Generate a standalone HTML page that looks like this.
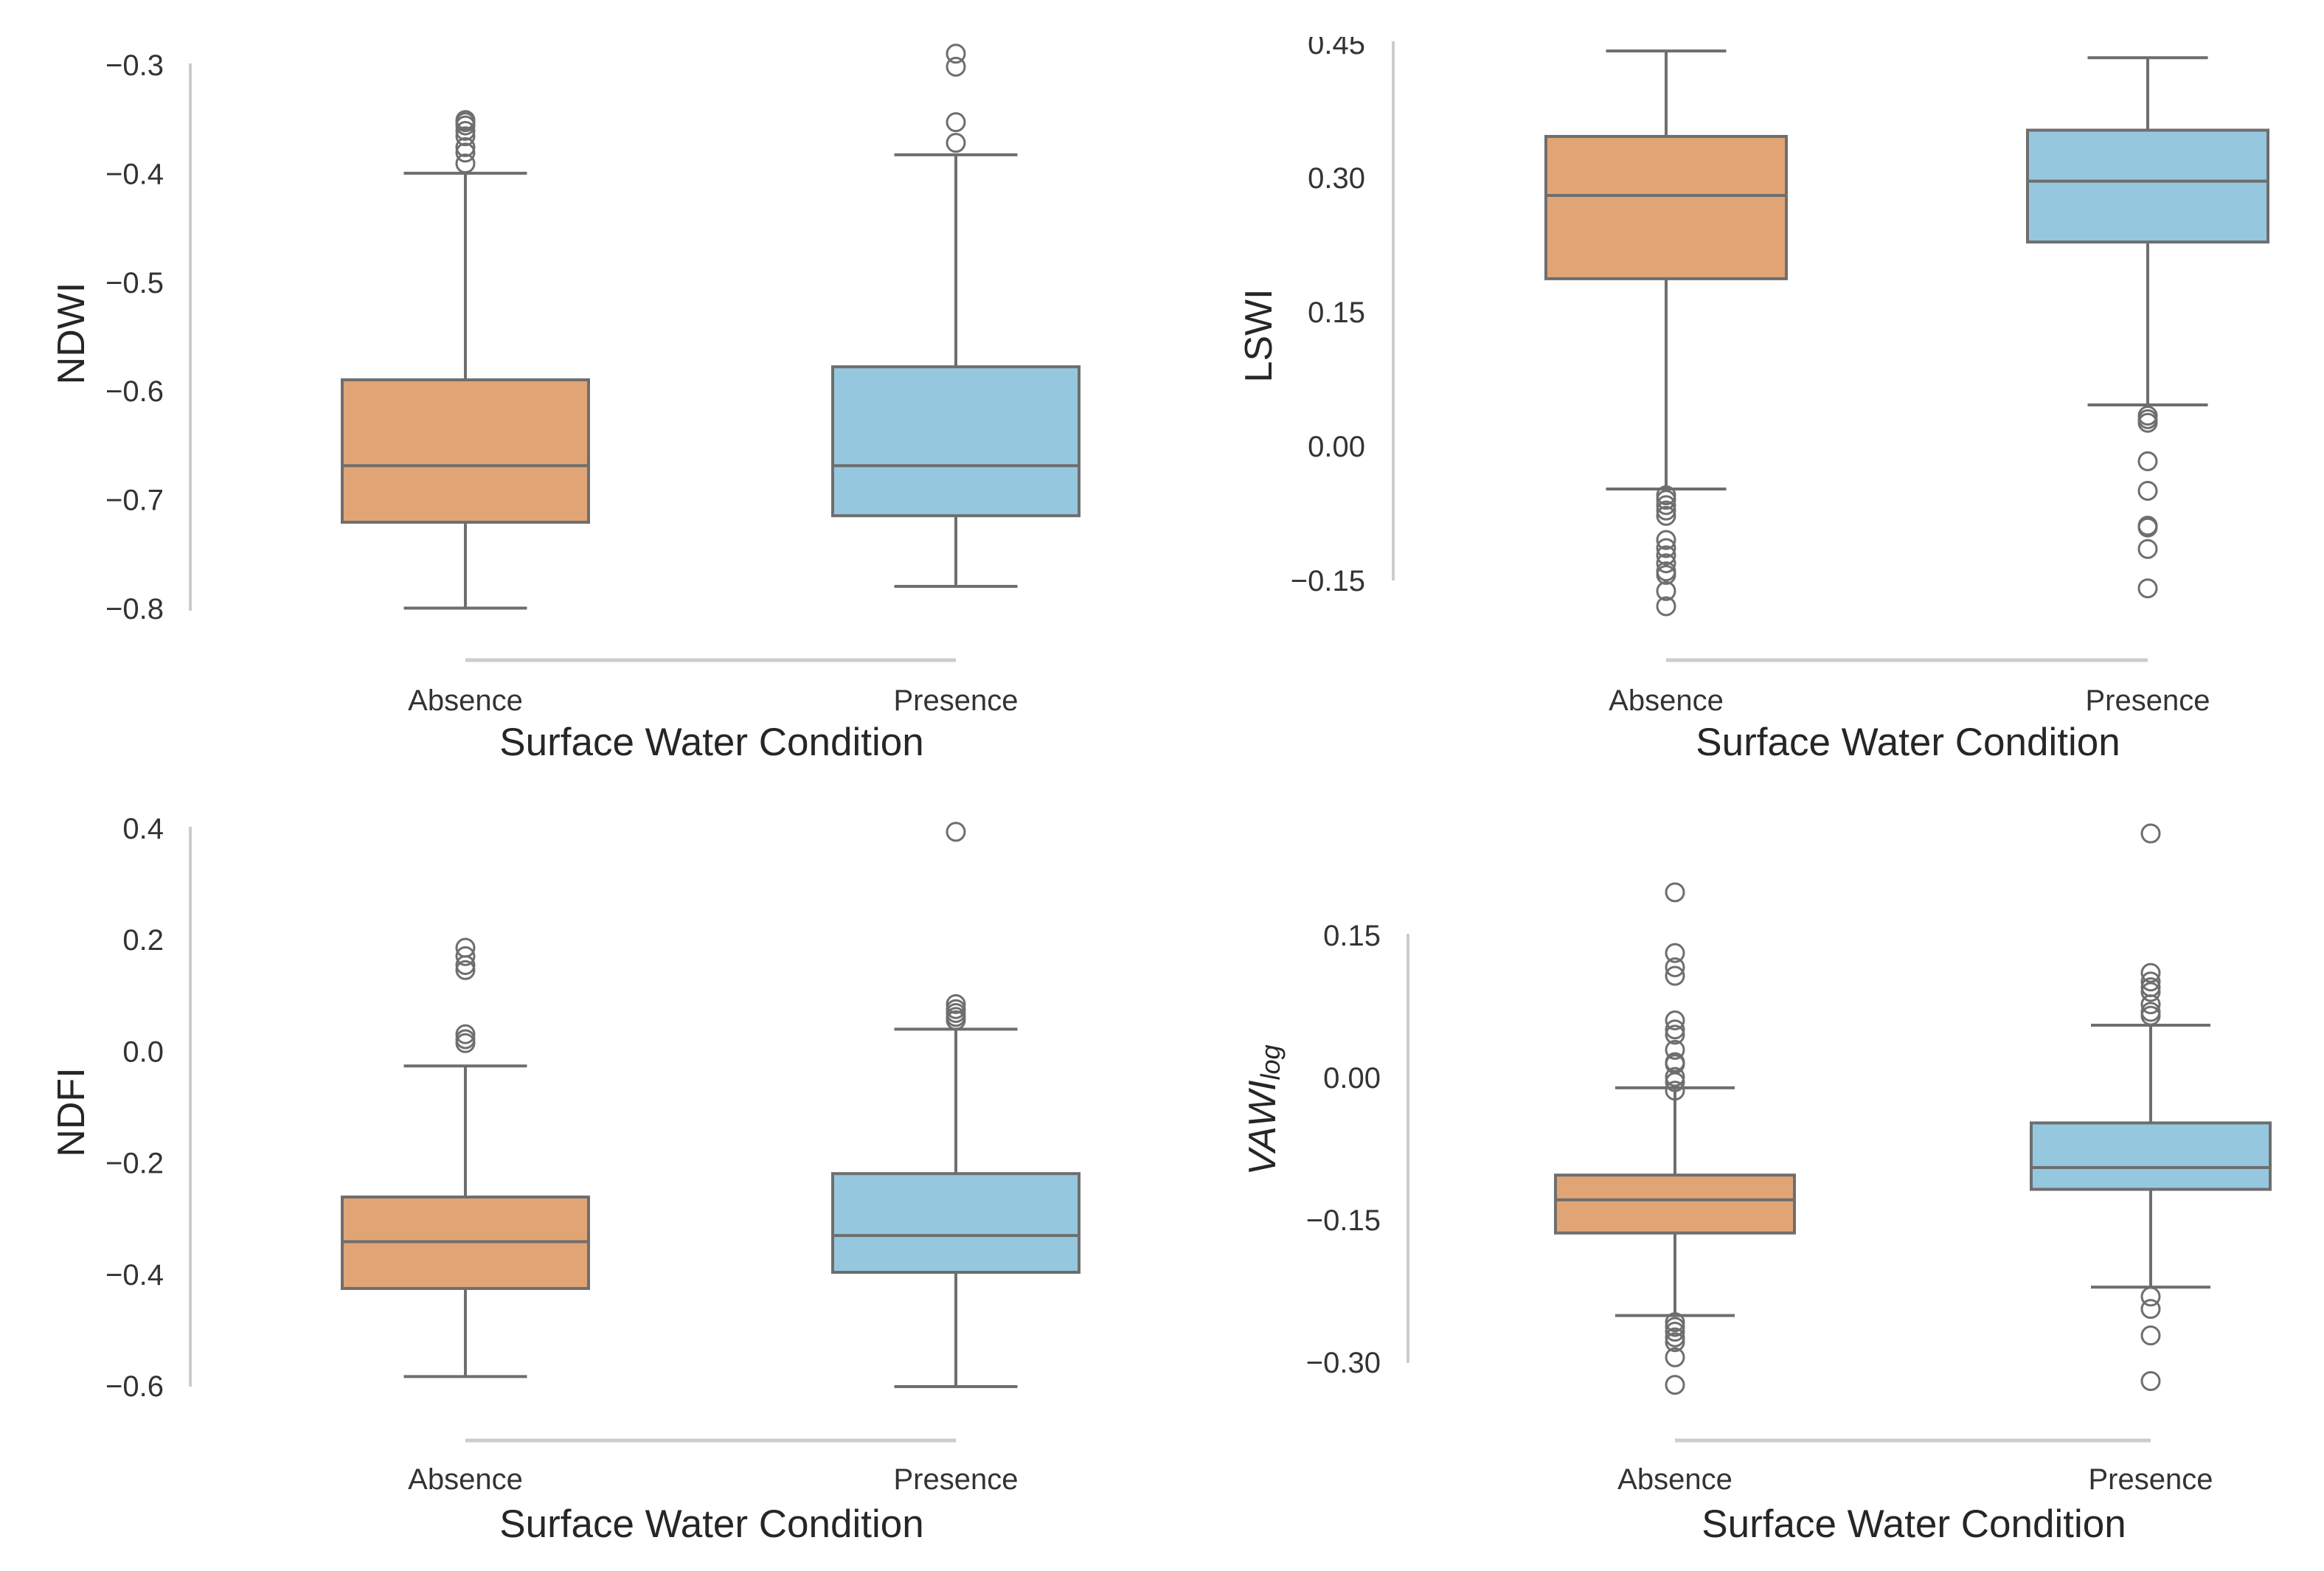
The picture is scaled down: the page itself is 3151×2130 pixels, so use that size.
<!DOCTYPE html>
<html><head><meta charset="utf-8"><style>
html,body{margin:0;padding:0;background:#fff;}
svg{display:block;font-family:"Liberation Sans",Arial,sans-serif;}
</style></head><body>
<svg id="chart" width="3151" height="2130" viewBox="0 0 3151 2130" xmlns="http://www.w3.org/2000/svg"></svg>
<script>
const categories = ["Absence", "Presence"];
// per panel: [whiskerLow, Q1, median, Q3, whiskerHigh] for each category
const ndwiStats = [[-0.799, -0.720, -0.668, -0.589, -0.399], [-0.779, -0.714, -0.668, -0.577, -0.382]];
const ndwiOutliers = [[-0.350, -0.352, -0.355, -0.360, -0.365, -0.375, -0.380, -0.390], [-0.289, -0.301, -0.352, -0.371]];
const ndwiTicks = [-0.3, -0.4, -0.5, -0.6, -0.7, -0.8];
const ndwiTickLabels = ["−0.3", "−0.4", "−0.5", "−0.6", "−0.7", "−0.8"];

const lswiStats = [[-0.047, 0.188, 0.281, 0.347, 0.4425], [0.047, 0.229, 0.297, 0.354, 0.435]];
const lswiOutliers = [[-0.054, -0.059, -0.065, -0.071, -0.077, -0.104, -0.113, -0.121, -0.130, -0.139, -0.143, -0.161, -0.178], [0.035, 0.031, 0.027, -0.016, -0.049, -0.088, -0.090, -0.114, -0.158]];
const lswiTicks = [0.45, 0.30, 0.15, 0.00, -0.15];
const lswiTickLabels = ["0.45", "0.30", "0.15", "0.00", "−0.15"];

const ndfiStats = [[-0.582, -0.424, -0.340, -0.260, -0.025], [-0.600, -0.395, -0.329, -0.218, 0.041]];
const ndfiOutliers = [[0.187, 0.172, 0.156, 0.147, 0.032, 0.023, 0.016], [0.395, 0.086, 0.077, 0.070, 0.063, 0.057]];
const ndfiTicks = [0.4, 0.2, 0.0, -0.2, -0.4, -0.6];
const ndfiTickLabels = ["0.4", "0.2", "0.0", "−0.2", "−0.4", "−0.6"];

const vawiStats = [[-0.250, -0.163, -0.128, -0.102, -0.010], [-0.220, -0.117, -0.094, -0.047, 0.056]];
const vawiOutliers = [[0.196, 0.132, 0.117, 0.108, 0.061, 0.0515, 0.046, 0.030, 0.017, 0.015, 0.0015, -0.004, -0.013, -0.257, -0.262, -0.267, -0.273, -0.278, -0.294, -0.323], [0.258, 0.111, 0.102, 0.096, 0.091, 0.078, 0.070, 0.066, -0.230, -0.243, -0.271, -0.319]];
const vawiTicks = [0.15, 0.00, -0.15, -0.30];
const vawiTickLabels = ["0.15", "0.00", "−0.15", "−0.30"];

const NS = "http://www.w3.org/2000/svg";
const svg = document.getElementById("chart");
const colors = ["#e1a575", "#95c8de"];
function mk(tag, attrs, parent) {
  const e = document.createElementNS(NS, tag);
  for (const k in attrs) e.setAttribute(k, attrs[k]);
  parent.appendChild(e);
  return e;
}
const panels = [
  {name:"ndwi", stats:ndwiStats, outl:ndwiOutliers, ticks:ndwiTicks, tl:ndwiTickLabels, ax:258, at:86, ab:828, v1:-0.3, y1:89, v2:-0.8, y2:826, xs:[631,1296], bw:334, sy:895, tr:222, lx:97, ly:452, label:"NDWI", lbly:963, tly:1024, tx:965},
  {name:"lswi", stats:lswiStats, outl:lswiOutliers, ticks:lswiTicks, tl:lswiTickLabels, ax:1889, at:56, ab:787, v1:0.0, y1:606, v2:-0.15, y2:788, xs:[2259,2912], bw:326, sy:895, tr:1851, lx:1707, ly:455, label:"LSWI", lbly:963, tly:1024, tx:2587},
  {name:"ndfi", stats:ndfiStats, outl:ndfiOutliers, ticks:ndfiTicks, tl:ndfiTickLabels, ax:258, at:1121, ab:1880, v1:0.4, y1:1124, v2:-0.6, y2:1880, xs:[631,1296], bw:334, sy:1953, tr:222, lx:97, ly:1508, label:"NDFI", lbly:2019, tly:2084, tx:965},
  {name:"vawi", stats:vawiStats, outl:vawiOutliers, ticks:vawiTicks, tl:vawiTickLabels, ax:1909, at:1266, ab:1848, v1:0.15, y1:1269, v2:-0.30, y2:1848, xs:[2271,2916], bw:324, sy:1953, tr:1872, lx:1712, ly:1505, label:"VAWI", lbly:2019, tly:2084, tx:2595}
];
const clip = mk("clipPath", {id:"topclip"}, mk("defs", {}, svg));
mk("rect", {x:0, y:50, width:3151, height:2130}, clip);

panels.forEach(p => {
  const g = mk("g", {}, svg);
  
  
  const yScale = v => p.y1 + (v - p.v1) * (p.y2 - p.y1) / (p.v2 - p.v1);
  const yAxis = mk("line", {x1:p.ax, x2:p.ax, y1:p.at, y2:p.ab, stroke:"#cccccc", "stroke-width":4}, g);
  
  
  const xAxis = mk("line", {x1:p.xs[0], x2:p.xs[1], y1:p.sy, y2:p.sy, stroke:"#cccccc", "stroke-width":5}, g);
  
  
  p.ticks.forEach((t, i) => {
    const tt = mk("text", {x:p.tr, y:yScale(t), "text-anchor":"end", "dominant-baseline":"central", "font-size":40, fill:"#333", "clip-path":"url(#topclip)"}, g);
    tt.textContent = p.tl[i];
    
    
  });
  categories.forEach((c, i) => {
    const s = p.stats[i], cx = p.xs[i], hw = p.bw / 2, cw = p.bw / 4;
    const bg = mk("g", {stroke:"#6e6e6e", "stroke-width":4, fill:"none"}, g);
    
    
    mk("line", {x1:cx, x2:cx, y1:yScale(s[3]), y2:yScale(s[4])}, bg);
    mk("line", {x1:cx, x2:cx, y1:yScale(s[1]), y2:yScale(s[0])}, bg);
    mk("line", {x1:cx-cw, x2:cx+cw, y1:yScale(s[4]), y2:yScale(s[4])}, bg);
    mk("line", {x1:cx-cw, x2:cx+cw, y1:yScale(s[0]), y2:yScale(s[0])}, bg);
    mk("rect", {x:cx-hw, y:yScale(s[3]), width:p.bw, height:yScale(s[1])-yScale(s[3]), fill:colors[i]}, bg);
    mk("line", {x1:cx-hw, x2:cx+hw, y1:yScale(s[2]), y2:yScale(s[2])}, bg);
    p.outl[i].forEach(o => {
      const ci = mk("circle", {cx:cx, cy:yScale(o), r:12, stroke:"#6e6e6e", "stroke-width":3, fill:"none"}, g);
      
      
    });
    const xl = mk("text", {x:cx, y:p.lbly, "text-anchor":"middle", "font-size":40, fill:"#333"}, g);
    xl.textContent = c;
    
    
  });
  const xt = mk("text", {x:p.tx, y:p.tly, "text-anchor":"middle", "font-size":53, fill:"#262626"}, g);
  xt.textContent = "Surface Water Condition";
  
  
  const yt = mk("text", {x:p.lx, y:p.ly, "text-anchor":"middle", "dominant-baseline":"central", "font-size":52, fill:"#262626", transform:`rotate(-90 ${p.lx} ${p.ly})`}, g);
  if (p.label === "VAWI") {
    yt.setAttribute("font-style", "italic");
    yt.textContent = "VAWI";
    const sub = mk("tspan", {"font-size":36, dy:10}, yt);
    sub.textContent = "log";
  } else {
    yt.textContent = p.label;
  }
  
  
});
</script>
</body></html>
